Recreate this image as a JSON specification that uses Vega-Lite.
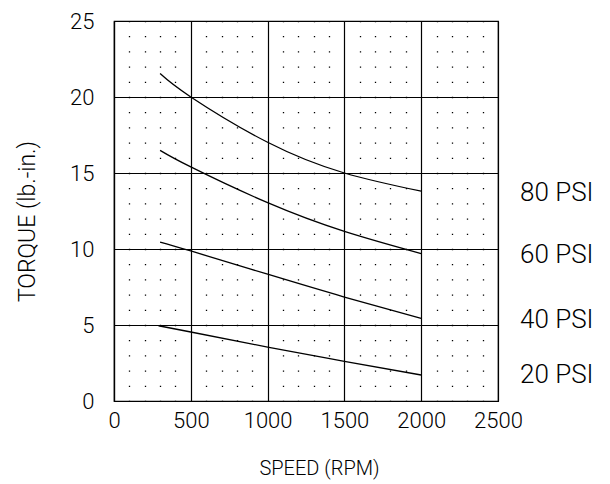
{
  "$schema": "https://vega.github.io/schema/vega-lite/v6.json",
  "autosize": {"type": "none"},
  "padding": {"left": 114, "top": 21, "right": 112, "bottom": 83},
  "width": 384,
  "height": 380,
  "background": "white",
  "config": {
    "view": {"stroke": "black", "strokeWidth": 1.2},
    "font": "Roboto",
    "axis": {"labelFont": "Roboto", "titleFont": "Roboto", "labelFontWeight": 300, "titleFontWeight": 300}
  },
  "datasets": {
    "curves": [
      {"psi": "80 PSI", "rpm": 300, "torque": 21.54},
      {"psi": "80 PSI", "rpm": 500, "torque": 20.0},
      {"psi": "80 PSI", "rpm": 1000, "torque": 17.02},
      {"psi": "80 PSI", "rpm": 1500, "torque": 15.0},
      {"psi": "80 PSI", "rpm": 2000, "torque": 13.8},
      {"psi": "60 PSI", "rpm": 300, "torque": 16.49},
      {"psi": "60 PSI", "rpm": 500, "torque": 15.4},
      {"psi": "60 PSI", "rpm": 1000, "torque": 13.05},
      {"psi": "60 PSI", "rpm": 1500, "torque": 11.16},
      {"psi": "60 PSI", "rpm": 2000, "torque": 9.7},
      {"psi": "40 PSI", "rpm": 300, "torque": 10.46},
      {"psi": "40 PSI", "rpm": 500, "torque": 9.87},
      {"psi": "40 PSI", "rpm": 1000, "torque": 8.34},
      {"psi": "40 PSI", "rpm": 1500, "torque": 6.84},
      {"psi": "40 PSI", "rpm": 2000, "torque": 5.44},
      {"psi": "20 PSI", "rpm": 290, "torque": 4.95},
      {"psi": "20 PSI", "rpm": 500, "torque": 4.54},
      {"psi": "20 PSI", "rpm": 1000, "torque": 3.55},
      {"psi": "20 PSI", "rpm": 1500, "torque": 2.61},
      {"psi": "20 PSI", "rpm": 2000, "torque": 1.71}
    ],
    "labels": [
      {"psi": "80 PSI", "torque": 13.66},
      {"psi": "60 PSI", "torque": 9.59},
      {"psi": "40 PSI", "torque": 5.31},
      {"psi": "20 PSI", "torque": 1.69}
    ]
  },
  "layer": [
    {
      "data": {"name": "curves"},
      "mark": {"type": "line", "color": "black", "strokeWidth": 1.3, "interpolate": "natural"},
      "encoding": {
        "x": {
          "field": "rpm", "type": "quantitative",
          "scale": {"domain": [0, 2500], "nice": false},
          "axis": {
            "values": [0,100,200,300,400,500,600,700,800,900,1000,1100,1200,1300,1400,1500,1600,1700,1800,1900,2000,2100,2200,2300,2400,2500],
            "tickCount": 100,
            "labelExpr": "datum.value % 500 === 0 ? datum.label : ''",
            "format": "d",
            "labelOverlap": false,
            "labelFlush": false,
            "grid": true,
            "gridColor": "black",
            "gridWidth": {"condition": {"test": "datum.value % 500 === 0", "value": 1.2}, "value": 1.3},
            "gridDash": {"condition": {"test": "datum.value % 500 === 0", "value": []}, "value": [1.3, 13.9]},
            "gridDashOffset": 0.65,
            "gridOpacity": 1,
            "ticks": false,
            "domain": true,
            "domainColor": "black",
            "domainWidth": 1.2,
            "labelFontSize": 22,
            "labelColor": "black",
            "labelPadding": 9,
            "title": "SPEED (RPM)",
            "titleFontSize": 20,
            "titleColor": "black",
            "titleX": 205,
            "titleAlign": "center",
            "titlePadding": 27
          }
        },
        "y": {
          "field": "torque", "type": "quantitative",
          "scale": {"domain": [0, 25], "nice": false},
          "axis": {
            "values": [0, 5, 10, 15, 20, 25],
            "tickCount": 100,
            "format": "d",
            "labelOverlap": false,
            "labelFlush": false,
            "grid": true,
            "gridColor": "black",
            "gridWidth": 1.2,
            "gridOpacity": 1,
            "ticks": false,
            "domain": true,
            "domainColor": "black",
            "domainWidth": 1.2,
            "labelFontSize": 22,
            "labelColor": "black",
            "labelPadding": 20,
            "title": "TORQUE (lb.-in.)",
            "titleFontSize": 23,
            "titleColor": "black",
            "titleY": 200,
            "titleAlign": "center",
            "titlePadding": 30
          }
        },
        "detail": {"field": "psi"}
      }
    },
    {
      "data": {"name": "labels"},
      "mark": {"type": "text", "align": "left", "baseline": "middle", "dx": 22, "fontSize": 26, "font": "Roboto", "fontWeight": 300, "color": "black"},
      "encoding": {
        "x": {"datum": 2500, "type": "quantitative"},
        "y": {"field": "torque", "type": "quantitative"},
        "text": {"field": "psi"}
      }
    }
  ]
}
